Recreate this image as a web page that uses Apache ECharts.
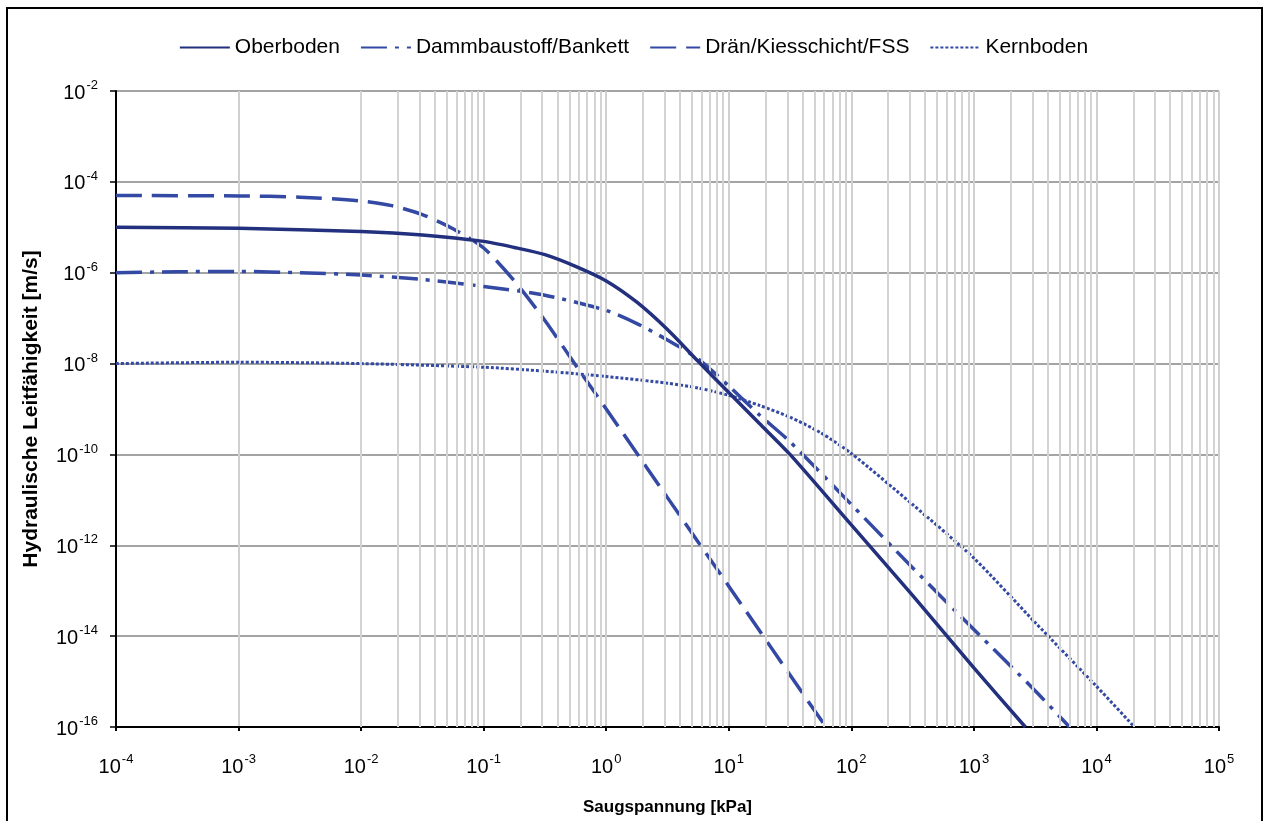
<!DOCTYPE html>
<html>
<head>
<meta charset="utf-8">
<script src="https://cdn.jsdelivr.net/npm/echarts@6/dist/echarts.min.js"></script>
<style>
html,body{margin:0;padding:0;background:#fff;}
#chart{width:1267px;height:821px;}
</style>
</head>
<body>
<div id="chart"></div>
<script>
// ---- data ----
const seriesNames = ['Oberboden', 'Dammbaustoff/Bankett', 'Drän/Kiesschicht/FSS', 'Kernboden'];

const oberX = [1e-4, 1e-3, 1e-2, 0.0316, 0.1, 0.178, 0.316, 0.562, 1, 1.78, 3.16, 5.62, 10, 17.8, 31.6, 100, 316, 1000, 2630];
const oberY = [1.0e-5, 9.5e-6, 8.1e-6, 6.8e-6, 4.9e-6, 3.6e-6, 2.5e-6, 1.38e-6, 6.6e-7, 2.24e-7, 5.6e-8, 1.12e-8, 2.3e-9, 4.8e-10, 1.0e-10, 2.8e-12, 7.9e-14, 2.0e-15, 1.0e-16];

const dammX = [1e-4, 3.16e-4, 1e-3, 3.16e-3, 1e-2, 0.0316, 0.1, 0.316, 1, 1.78, 3.16, 5.62, 10, 17.8, 31.6, 100, 316, 1000, 3160, 6030];
const dammY = [1.0e-6, 1.05e-6, 1.07e-6, 1.0e-6, 8.9e-7, 7.1e-7, 5.0e-7, 3.2e-7, 1.48e-7, 7.6e-8, 3.3e-8, 1.26e-8, 3.2e-9, 7.4e-10, 1.9e-10, 7.9e-12, 3.2e-13, 1.4e-14, 6.3e-16, 1.0e-16];

const draenX = [1e-4, 1e-3, 3.16e-3, 1e-2, 0.0178, 0.0316, 0.0562, 0.1, 0.178, 0.316, 0.562, 1, 3.16, 10, 31.6, 62];
const draenY = [5.0e-5, 4.9e-5, 4.6e-5, 3.8e-5, 3.0e-5, 1.9e-5, 9.3e-6, 3.5e-6, 6.6e-7, 8.9e-8, 9.3e-9, 1.0e-9, 1.12e-11, 1.26e-13, 1.4e-15, 1.0e-16];

const kernX = [1e-4, 1e-3, 1e-2, 0.1, 0.316, 1, 3.16, 5.62, 10, 17.8, 31.6, 56.2, 100, 316, 1000, 3160, 10000, 20400];
const kernY = [1.0e-8, 1.07e-8, 1.0e-8, 8.3e-9, 6.8e-9, 5.2e-9, 3.7e-9, 2.9e-9, 2.0e-9, 1.2e-9, 6.6e-10, 3.0e-10, 1.05e-10, 7.9e-12, 5.2e-13, 2.0e-14, 7.9e-16, 1.0e-16];

const xMin = 1e-4, xMax = 1e5;
const yMin = 1e-16, yMax = 1e-2;

// ---- build ----
function pairs(xs, ys) { return xs.map((x, i) => [x, ys[i]]); }
const minorX = [];
for (let k = -4; k < 5; k++) {
  for (let m = 2; m <= 9; m++) minorX.push(Number((m * Math.pow(10, k)).toPrecision(6)));
}
const FONT = '"Liberation Sans", Arial, sans-serif';
function supLabel(v) {
  const e = Math.round(Math.log10(v));
  return '{b|10}{s|' + e + '}';
}
const richLbl = {
  b: { fontSize: 20, fontFamily: FONT, color: '#000', lineHeight: 24, verticalAlign: 'bottom' },
  s: { fontSize: 13, fontFamily: FONT, color: '#000', lineHeight: 24, verticalAlign: 'top', padding: [0, 0, 9, 1] }
};
const dark = '#22307e';
const blue = '#3349a3';

const chart = echarts.init(document.getElementById('chart'), null, { renderer: 'canvas' });
chart.setOption({
  animation: false,
  backgroundColor: '#fff',
  textStyle: { fontFamily: FONT },
  graphic: [{
    type: 'rect', z: 100, silent: true,
    shape: { x: 7, y: 8, width: 1255, height: 840 },
    style: { fill: 'none', stroke: '#000', lineWidth: 2 }
  }],
  legend: {
    data: seriesNames,
    top: 32, left: 'center',
    itemWidth: 50, itemHeight: 12, itemGap: 20,
    itemStyle: { opacity: 0 },
    textStyle: { fontSize: 21, fontFamily: FONT, color: '#000' }
  },
  grid: { left: 116, right: 48, top: 91, bottom: 90, containLabel: false },
  xAxis: {
    type: 'log', logBase: 10, min: xMin, max: xMax,
    name: 'Saugspannung [kPa]', nameLocation: 'middle', nameGap: 72,
    nameTextStyle: { fontSize: 17, fontWeight: 'bold', fontFamily: FONT, color: '#000' },
    axisLine: { show: true, onZero: false, lineStyle: { color: '#000', width: 2 } },
    axisTick: { show: true, length: 4, lineStyle: { color: '#000', width: 2 } },
    axisLabel: { formatter: supLabel, rich: richLbl, margin: 26 },
    splitLine: { show: true, lineStyle: { color: '#d0d0d0', width: 2 } }
  },
  yAxis: {
    type: 'log', logBase: 100, min: yMin, max: yMax,
    name: 'Hydraulische Leitfähigkeit [m/s]', nameLocation: 'middle', nameGap: 74, nameRotate: 90,
    nameTextStyle: { fontSize: 21, fontWeight: 'bold', fontFamily: FONT, color: '#000' },
    axisLine: { show: true, onZero: false, lineStyle: { color: '#000', width: 2 } },
    axisTick: { show: true, length: 6, lineStyle: { color: '#000', width: 1.5 } },
    axisLabel: { formatter: supLabel, rich: richLbl, margin: 18 },
    splitLine: { show: true, lineStyle: { color: '#a4a4a4', width: 2 } }
  },
  series: [
    {
      name: '_minor', type: 'line', data: [], silent: true, z: 1,
      markLine: {
        silent: true, symbol: ['none', 'none'], label: { show: false }, animation: false,
        lineStyle: { color: '#d3d3d3', width: 2, type: 'solid' },
        emphasis: { disabled: true },
        data: minorX.map(v => ({ xAxis: v }))
      }
    },
    {
      name: seriesNames[0], type: 'line', data: pairs(oberX, oberY), z: 5,
      symbol: 'none', smooth: 0.25, color: dark,
      lineStyle: { color: dark, width: 3.5, type: 'solid' }
    },
    {
      name: seriesNames[1], type: 'line', data: pairs(dammX, dammY), z: 4,
      symbol: 'none', smooth: 0.25, color: blue,
      lineStyle: { color: blue, width: 3.5, type: [26, 8, 4, 8] }
    },
    {
      name: seriesNames[2], type: 'line', data: pairs(draenX, draenY), z: 4,
      symbol: 'none', smooth: 0.25, color: blue,
      lineStyle: { color: blue, width: 3.5, type: [26, 10] }
    },
    {
      name: seriesNames[3], type: 'line', data: pairs(kernX, kernY), z: 4,
      symbol: 'none', smooth: 0.25, color: blue,
      lineStyle: { color: blue, width: 3, type: [3, 2] }
    }
  ]
});
</script>
</body>
</html>
